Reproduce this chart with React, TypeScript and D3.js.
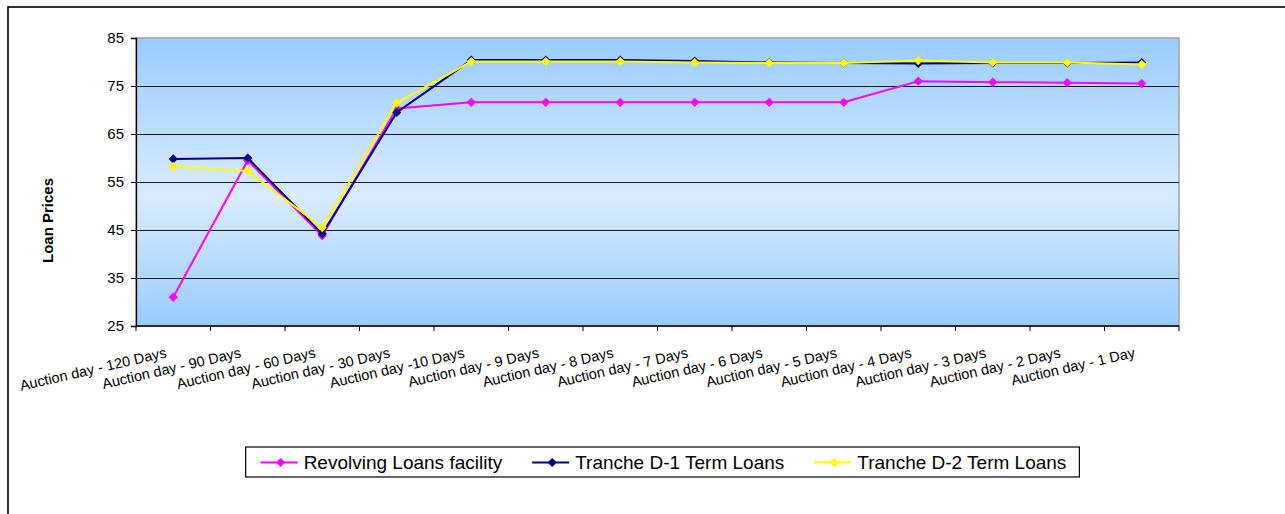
import React, { useRef, useEffect } from "react";
import * as d3 from "d3";

const categories = [
  "Auction day - 120 Days",
  "Auction day - 90 Days",
  "Auction day - 60 Days",
  "Auction day - 30 Days",
  "Auction day -10 Days",
  "Auction day - 9 Days",
  "Auction day - 8 Days",
  "Auction day - 7 Days",
  "Auction day - 6 Days",
  "Auction day - 5 Days",
  "Auction day - 4 Days",
  "Auction day - 3 Days",
  "Auction day - 2 Days",
  "Auction day - 1 Day",
];

const revolving = [31.0, 59.5, 43.8, 70.3, 71.6, 71.6, 71.6, 71.6, 71.6, 71.6, 76.0, 75.8, 75.7, 75.5];
const trancheD1 = [59.8, 60.0, 44.2, 69.5, 80.4, 80.4, 80.4, 80.2, 79.9, 79.8, 79.7, 79.8, 79.8, 79.9];
const trancheD2 = [58.2, 57.3, 45.5, 71.5, 80.1, 80.1, 80.1, 79.9, 79.8, 79.8, 80.3, 79.9, 79.9, 79.5];

const seriesNames = ["Revolving Loans facility", "Tranche D-1 Term Loans", "Tranche D-2 Term Loans"];
const seriesColors = ["#FF00FF", "#000080", "#FFFF00"];
const yTicks = [25, 35, 45, 55, 65, 75, 85];

const FONT = "'Liberation Sans', Arial, sans-serif";

function LoanChart() {
  const svgRef = useRef(null);

  useEffect(() => {
    const svg = d3.select(svgRef.current);
    svg.selectAll("*").remove();

    const plot = { left: 136, right: 1179, top: 38, bottom: 326 };
    const series = [revolving, trancheD1, trancheD2];

    const x = d3.scaleBand().domain(categories).range([plot.left, plot.right]);
    const y = d3.scaleLinear().domain([25, 85]).range([plot.bottom, plot.top]);
    const cx = (c) => x(c) + x.bandwidth() / 2;

    // outer chart frame (runs off the right / bottom of the picture)
    svg.append("rect")
      .attr("x", 8).attr("y", 7)
      .attr("width", 1400).attr("height", 700)
      .attr("fill", "#fff").attr("stroke", "#000").attr("stroke-width", 1.6);

    const defs = svg.append("defs");
    const grad = defs.append("linearGradient")
      .attr("id", "plotBg").attr("x1", 0).attr("y1", 0).attr("x2", 0).attr("y2", 1);
    grad.append("stop").attr("offset", "0%").attr("stop-color", "#99CCFF");
    grad.append("stop").attr("offset", "55%").attr("stop-color", "#D8EBFF");
    grad.append("stop").attr("offset", "100%").attr("stop-color", "#99CCFF");

    svg.append("rect")
      .attr("x", plot.left).attr("y", plot.top)
      .attr("width", plot.right - plot.left).attr("height", plot.bottom - plot.top)
      .attr("fill", "url(#plotBg)")
      .attr("stroke", "#A0A0A0").attr("stroke-width", 1.5);

    // gridlines
    svg.append("g")
      .selectAll("line")
      .data(yTicks.filter((t) => t > 25 && t < 85))
      .enter()
      .append("line")
      .attr("x1", plot.left).attr("x2", plot.right)
      .attr("y1", (d) => Math.round(y(d)) + 0.5).attr("y2", (d) => Math.round(y(d)) + 0.5)
      .attr("stroke", "#1a1a1a").attr("stroke-width", 1);

    // y axis
    const yAxis = svg.append("g").attr("transform", `translate(${plot.left},0)`)
      .call(d3.axisLeft(y).tickValues(yTicks).tickSize(5).tickPadding(7).tickFormat(d3.format("d")));
    yAxis.select(".domain").attr("stroke", "#000").attr("stroke-width", 1.3);
    yAxis.selectAll(".tick line").attr("stroke", "#000");
    yAxis.selectAll("text")
      .attr("font-family", FONT).attr("font-size", 15).attr("fill", "#000");

    // x axis
    const xAxis = svg.append("g").attr("transform", `translate(0,${plot.bottom})`);
    xAxis.append("line")
      .attr("x1", plot.left).attr("x2", plot.right)
      .attr("y1", 0).attr("y2", 0)
      .attr("stroke", "#000").attr("stroke-width", 1.3);
    const bounds = categories.map((c) => x(c)).concat([plot.right]);
    xAxis.selectAll(".xtick")
      .data(bounds)
      .enter()
      .append("line")
      .attr("x1", (d) => d).attr("x2", (d) => d)
      .attr("y1", 0).attr("y2", 5)
      .attr("stroke", "#000");
    svg.append("g")
      .selectAll("text")
      .data(categories)
      .enter()
      .append("text")
      .attr("transform", (d) => `translate(${cx(d) - 6},357) rotate(-13)`)
      .attr("text-anchor", "end")
      .attr("font-family", FONT).attr("font-size", 14.5).attr("fill", "#000")
      .text((d) => d);

    // y title
    svg.append("text")
      .attr("transform", "translate(53,220.5) rotate(-90)")
      .attr("text-anchor", "middle")
      .attr("font-family", FONT).attr("font-size", 15).attr("font-weight", "bold")
      .text("Loan Prices");

    const diamond = "M0,-4.6L4.6,0L0,4.6L-4.6,0Z";
    const line = d3.line().x((d, i) => cx(categories[i])).y((d) => y(d));

    series.forEach((vals, si) => {
      const g = svg.append("g");
      g.append("path")
        .datum(vals)
        .attr("d", line)
        .attr("fill", "none")
        .attr("stroke", seriesColors[si])
        .attr("stroke-width", 2);
      g.selectAll("path.mk")
        .data(vals)
        .enter()
        .append("path")
        .attr("class", "mk")
        .attr("d", diamond)
        .attr("transform", (d, i) => `translate(${cx(categories[i])},${y(d)})`)
        .attr("fill", seriesColors[si]);
    });

    // legend
    const legend = svg.append("g");
    const items = legend.selectAll("g.item")
      .data(seriesNames)
      .enter()
      .append("g")
      .attr("class", "item");
    items.append("text")
      .attr("x", 43).attr("y", 469)
      .attr("font-family", FONT).attr("font-size", 19).attr("fill", "#000")
      .text((d) => d);
    let cursor = 0;
    const offsets = [];
    items.each(function () {
      const w = (d3.select(this).select("text").node() as SVGTextElement).getComputedTextLength();
      offsets.push(cursor);
      cursor += 43 + w + 30;
    });
    const totalW = cursor - 30;
    const boxW = totalW + 15 + 13;
    const boxLeft = (plot.left + plot.right) / 2 + 5 - boxW / 2;
    legend.insert("rect", ":first-child")
      .attr("x", boxLeft).attr("y", 447)
      .attr("width", boxW).attr("height", 30)
      .attr("fill", "#fff").attr("stroke", "#000").attr("stroke-width", 1.2);
    items.attr("transform", (d, i) => `translate(${boxLeft + 15 + offsets[i]},0)`);
    items.append("line")
      .attr("x1", 0).attr("x2", 37)
      .attr("y1", 462.5).attr("y2", 462.5)
      .attr("stroke", (d, i) => seriesColors[i]).attr("stroke-width", 2);
    items.append("path")
      .attr("d", diamond)
      .attr("transform", "translate(20,462.5)")
      .attr("fill", (d, i) => seriesColors[i]);

    return () => {
      d3.select(svgRef.current).selectAll("*").remove();
    };
  }, []);

  return (
    <svg
      ref={svgRef}
      width={1285}
      height={514}
      style={{ position: "absolute", left: 0, top: 0, background: "#fff" }}
    />
  );
}

export default function App() {
  return <LoanChart />;
}
